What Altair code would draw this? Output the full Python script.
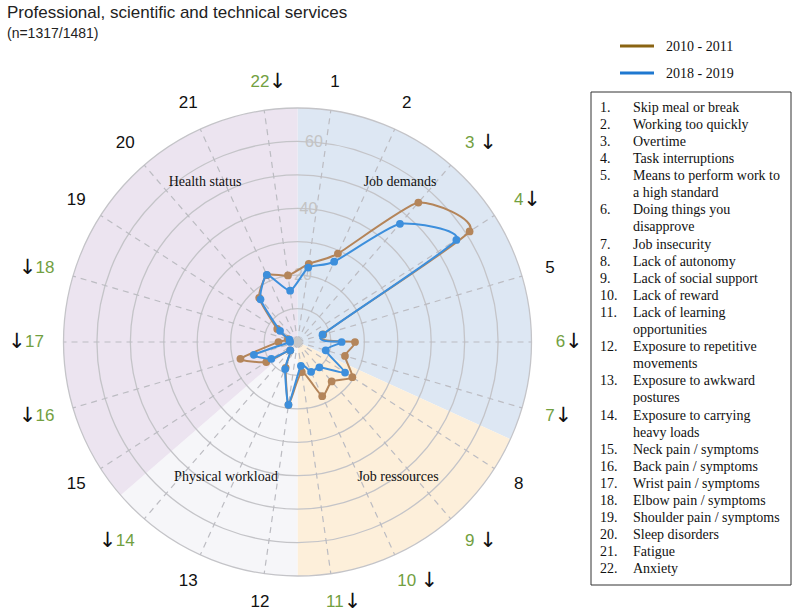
import math
import altair as alt
import pandas as pd

# ---- content -------------------------------------------------------------
TITLE = "Professional, scientific and technical services"
SUBTITLE = "(n=1317/1481)"

items = list(range(1, 23))
share_2010 = [23.6, 29.1, 55.2, 61.2, 8.0, 17.2, 14.8, 19.5, 15.6, 17.8, 9.1,
              19.0, 8.5, 3.3, 11.1, 17.8, 5.7, 3.0, 7.2, 17.5, 22.0, 20.1]
share_2018 = [22.5, 26.4, 46.8, 56.5, 7.8, 13.2, 8.8, 16.9, 10.0, 9.8, 7.2,
              19.0, 8.9, 3.3, 9.3, 13.6, 2.2, 2.5, 6.2, 16.9, 22.1, 15.5]
periods = ["2010 - 2011", "2018 - 2019"]
decreased = [3, 4, 6, 7, 9, 10, 11, 14, 16, 17, 18, 22]

descriptions = [
    "Skip meal or break",
    "Working too quickly",
    "Overtime",
    "Task interruptions",
    "Means to perform work to\na high standard",
    "Doing things you\ndisapprove",
    "Job insecurity",
    "Lack of autonomy",
    "Lack of social support",
    "Lack of reward",
    "Lack of learning\nopportunities",
    "Exposure to repetitive\nmovements",
    "Exposure to awkward\npostures",
    "Exposure to carrying\nheavy loads",
    "Neck pain / symptoms",
    "Back pain / symptoms",
    "Wrist pain / symptoms",
    "Elbow pain / symptoms",
    "Shoulder pain / symptoms",
    "Sleep disorders",
    "Fatigue",
    "Anxiety",
]

domain_names = ["Job demands", "Job ressources", "Physical workload", "Health status"]
domain_first_item = [1, 8, 12, 15]
domain_last_item = [7, 11, 14, 22]
grid_rings = [10, 20, 30, 40, 50, 60, 70]
ring_ticks = [20, 40, 60]

# ---- styling / layout ----------------------------------------------------
W, H = 796, 616
CX, CY = 297.5, 342.0          # pixel centre of the polar area
R_PX = 234.0                   # outer radius in pixels
R_MAX = 70                     # value at the outer ring
PX = R_PX / R_MAX              # pixels per unit
STEP = 2 * math.pi / len(items)
LABEL_R = 78.7                 # radius of the item numbers (in value units)
TICK_ANGLE = math.radians(4.7)

domain_fill = ["#dde7f3", "#fdefda", "#f6f6f9", "#ece4f0"]
series_line = ["#b4855a", "#3d8fdc"]
series_legend = ["#8a6413", "#1f78d0"]
GREEN = "#72a03f"
SANS = "Liberation Sans"
SERIF = "Liberation Serif"
spaced_arrows = [3, 9, 10]


def ux(px):
    return (px - CX) / PX


def uy(py):
    return (CY - py) / PX


x_scale = alt.Scale(domain=[ux(0), ux(W)], range=[0, W], nice=False, zero=False)
y_scale = alt.Scale(domain=[uy(H), uy(0)], range=[H, 0], nice=False, zero=False)
r_scale = alt.Scale(type="linear", domain=[0, R_MAX], range=[0, R_PX], zero=True, nice=False)


def X(field):
    return alt.X(field, type="quantitative", scale=x_scale, axis=None)


def Y(field):
    return alt.Y(field, type="quantitative", scale=y_scale, axis=None)


layers = []

# background sectors for the four domains
for name, first, last, fill in zip(domain_names, domain_first_item, domain_last_item, domain_fill):
    sector = pd.DataFrame({"name": [name], "t0": [(first - 1) * STEP], "t1": [last * STEP],
                           "r": [R_MAX], "c": [0.0]})
    layers.append(
        alt.Chart(sector).mark_arc(color=fill).encode(
            x=X("c"), y=Y("c"),
            theta=alt.Theta("t0:Q", scale=None), theta2="t1:Q",
            radius=alt.Radius("r:Q", scale=r_scale),
        )
    )

# concentric grid rings
ring_df = pd.DataFrame({"r": grid_rings, "c": 0.0, "t0": 0.0, "t1": 2 * math.pi})
layers.append(
    alt.Chart(ring_df).mark_arc(fillOpacity=0, stroke="#c4c4c8", strokeWidth=1.3).encode(
        x=X("c"), y=Y("c"),
        theta=alt.Theta("t0:Q", scale=None), theta2="t1:Q",
        radius=alt.Radius("r:Q", scale=r_scale),
    )
)

# dashed spokes, one per item
spoke_df = pd.DataFrame({"item": items})
layers.append(
    alt.Chart(spoke_df).transform_calculate(
        theta=f"(datum.item - 0.5) * {STEP}",
        c="0",
        ex=f"{R_MAX} * sin(datum.theta)",
        ey=f"{R_MAX} * cos(datum.theta)",
    ).mark_rule(color="#bcbcc2", strokeWidth=1.2, strokeDash=[6, 5]).encode(
        x=X("c"), y=Y("c"), x2="ex:Q", y2="ey:Q"
    )
)

# radial tick labels
tick_df = pd.DataFrame({"v": ring_ticks})
layers.append(
    alt.Chart(tick_df).transform_calculate(
        tx=f"datum.v * {math.sin(TICK_ANGLE)}",
        ty=f"datum.v * {math.cos(TICK_ANGLE)}",
        label="format(datum.v, 'd')",
    ).mark_text(font=SANS, fontSize=16, color="#c3c3c3", baseline="middle").encode(
        x=X("tx"), y=Y("ty"), text="label:N"
    )
)

# centre dot
layers.append(
    alt.Chart(pd.DataFrame({"c": [0.0]})).mark_circle(size=90, color="#c9c9c9", opacity=1).encode(
        x=X("c"), y=Y("c")
    )
)

# the two survey periods
for period, values, col in zip(periods, [share_2010, share_2018], series_line):
    df = pd.DataFrame({"item": items, "value": values, "period": period})
    base = alt.Chart(df).transform_calculate(
        theta=f"(datum.item - 0.5) * {STEP}",
        px="datum.value * sin(datum.theta)",
        py="datum.value * cos(datum.theta)",
    )
    layers.append(
        base.mark_line(interpolate="cardinal-closed", tension=0.45, color=col, strokeWidth=2).encode(
            x=X("px"), y=Y("py"), order=alt.Order("item:Q")
        )
    )
    layers.append(
        base.mark_circle(size=60, color=col, opacity=1).encode(
            x=X("px"), y=Y("py"), tooltip=["period:N", "item:Q", "value:Q"]
        )
    )

# item numbers around the circle (green when the share decreased)
label_df = pd.DataFrame({"item": items})
label_df["dec"] = label_df["item"].isin(decreased)
label_df["spaced"] = label_df["item"].isin(spaced_arrows)
label_base = alt.Chart(label_df).transform_calculate(
    theta=f"(datum.item - 0.5) * {STEP}",
    lx=f"{LABEL_R} * sin(datum.theta)",
    ly=f"{LABEL_R} * cos(datum.theta)",
    label="'' + datum.item",
)
layers.append(
    label_base.mark_text(font=SANS, fontSize=17, baseline="middle", align="center").encode(
        x=X("lx"), y=Y("ly"), text="label:N",
        color=alt.condition("datum.dec", alt.value(GREEN), alt.value("#111111")),
    )
)
layers.append(
    label_base.transform_filter("datum.dec").transform_calculate(
        side="sin(datum.theta) < -0.3 ? -1 : 1",
        off=f"(9 + 4.3 * length(datum.label) + (datum.spaced ? 5 : 0)) / {PX}",
        ax="datum.lx + datum.side * datum.off",
        arrow="'↓'",
    ).mark_text(font="DejaVu Sans", fontSize=21, baseline="middle", align="center", color="#111111").encode(
        x=X("ax"), y=Y("ly"), text="arrow:N"
    )
)

# domain captions inside the sectors
captions = [("Job demands", 400, 182), ("Health status", 205, 182),
            ("Physical workload", 226, 477), ("Job ressources", 398, 477)]
for text, px, py in captions:
    layers.append(
        alt.Chart(pd.DataFrame({"t": [text]})).mark_text(
            font=SERIF, fontSize=14, color="#111111", baseline="middle", align="center"
        ).encode(text="t:N", x=alt.value(px), y=alt.value(py))
    )

# title and sample size
layers.append(
    alt.Chart(pd.DataFrame({"t": [TITLE]})).mark_text(
        font=SANS, fontSize=17, color="#222222", align="left", baseline="middle"
    ).encode(text="t:N", x=alt.value(7), y=alt.value(13))
)
layers.append(
    alt.Chart(pd.DataFrame({"t": [SUBTITLE]})).mark_text(
        font=SANS, fontSize=14, color="#222222", align="left", baseline="middle"
    ).encode(text="t:N", x=alt.value(7), y=alt.value(34))
)

# period legend
for period, col, py in zip(periods, series_legend, [46, 73]):
    layers.append(
        alt.Chart(pd.DataFrame({"t": [period]})).mark_rule(color=col, strokeWidth=3).encode(
            x=alt.value(620), x2=alt.value(654), y=alt.value(py)
        )
    )
    layers.append(
        alt.Chart(pd.DataFrame({"t": [period]})).mark_text(
            font=SERIF, fontSize=14, color="#111111", align="left", baseline="middle"
        ).encode(text="t:N", x=alt.value(666), y=alt.value(py + 1))
    )

# boxed key of the item numbers
layers.append(
    alt.Chart(pd.DataFrame({"t": ["key"]})).mark_rect(
        fill="white", stroke="#333333", strokeWidth=1
    ).encode(x=alt.value(591), x2=alt.value(791), y=alt.value(92), y2=alt.value(585))
)
key_rows = []
row = 0
for i, desc in zip(items, descriptions):
    key_rows.append({"num": f"{i}.", "desc": desc, "ky": uy(111.7 + row * 17.1)})
    row += desc.count("\n") + 1
key_df = pd.DataFrame(key_rows)
key_df["kx_num"] = ux(600)
key_df["kx_desc"] = ux(633)
layers.append(
    alt.Chart(key_df).mark_text(font=SERIF, fontSize=14, color="#111111", align="left",
                                baseline="alphabetic").encode(
        x=X("kx_num"), y=Y("ky"), text="num:N"
    )
)
layers.append(
    alt.Chart(key_df).mark_text(font=SERIF, fontSize=14, color="#111111", align="left",
                                baseline="alphabetic", lineBreak="\n", lineHeight=17.1).encode(
        x=X("kx_desc"), y=Y("ky"), text="desc:N"
    )
)

chart = alt.layer(*layers).properties(
    width=W, height=H, autosize=alt.AutoSizeParams(type="none"), padding=0
).configure_view(stroke=None)

chart.save("out.html", embed_options={"renderer": "svg", "actions": False})
